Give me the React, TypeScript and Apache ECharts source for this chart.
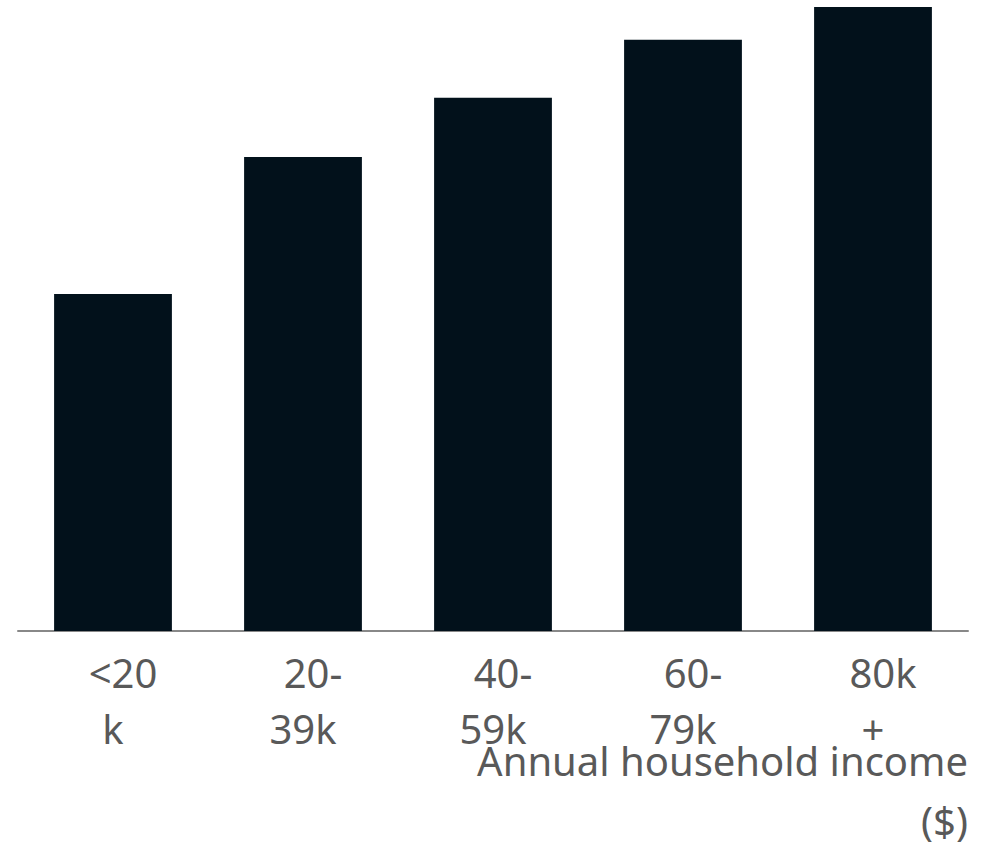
import React, { useEffect, useRef } from "react";
import * as echarts from "echarts";

const categories = ["<20\nk", "20-\n39k", "40-\n59k", "60-\n79k", "80k\n+"];
const values = [53.4, 75.1, 84.5, 93.7, 98.9];
const axisName = "Annual household income\n($)";

export default function App() {
  const ref = useRef<HTMLDivElement>(null);
  useEffect(() => {
    const chart = echarts.init(ref.current!, null, { renderer: "svg" });
    const txt = {
      color: "#595959",
      fontFamily: "Noto Sans",
      fontSize: 40,
      lineHeight: 56,
    };
    chart.setOption({
      animation: false,
      grid: {
        left: 18,
        right: 27,
        top: 0,
        bottom: 214,
        containLabel: false,
        outerBoundsMode: "none",
      },
      xAxis: {
        type: "category",
        data: categories,
        axisTick: { show: false },
        axisLine: { lineStyle: { color: "#888888", width: 2 } },
        axisLabel: {
          ...txt,
          margin: 13,
          formatter: (v: string) => {
            const [a, b] = v.split("\n");
            return `{a|${a}}\n{b|${b}}`;
          },
          rich: {
            a: { ...txt, padding: [0, 0, 0, 20] },
            b: { ...txt },
          },
        },
        name: axisName,
        nameLocation: "end",
        nameGap: 0,
        nameMoveOverlap: false,
        nameTextStyle: {
          color: "#595959",
          fontFamily: "Noto Sans",
          fontSize: 40,
          lineHeight: 60,
          align: "right",
          verticalAlign: "top",
          padding: [99, 0, 0, 0],
        },
      },
      yAxis: {
        type: "value",
        min: 0,
        max: 100,
        show: false,
        splitLine: { show: false },
      },
      series: [
        {
          type: "bar",
          data: values,
          barCategoryGap: "38%",
          itemStyle: { color: "#02111b" },
        },
      ],
    });
    return () => chart.dispose();
  }, []);
  return (
    <div
      ref={ref}
      style={{ position: "absolute", left: 0, top: 0, width: 995, height: 845 }}
    />
  );
}
